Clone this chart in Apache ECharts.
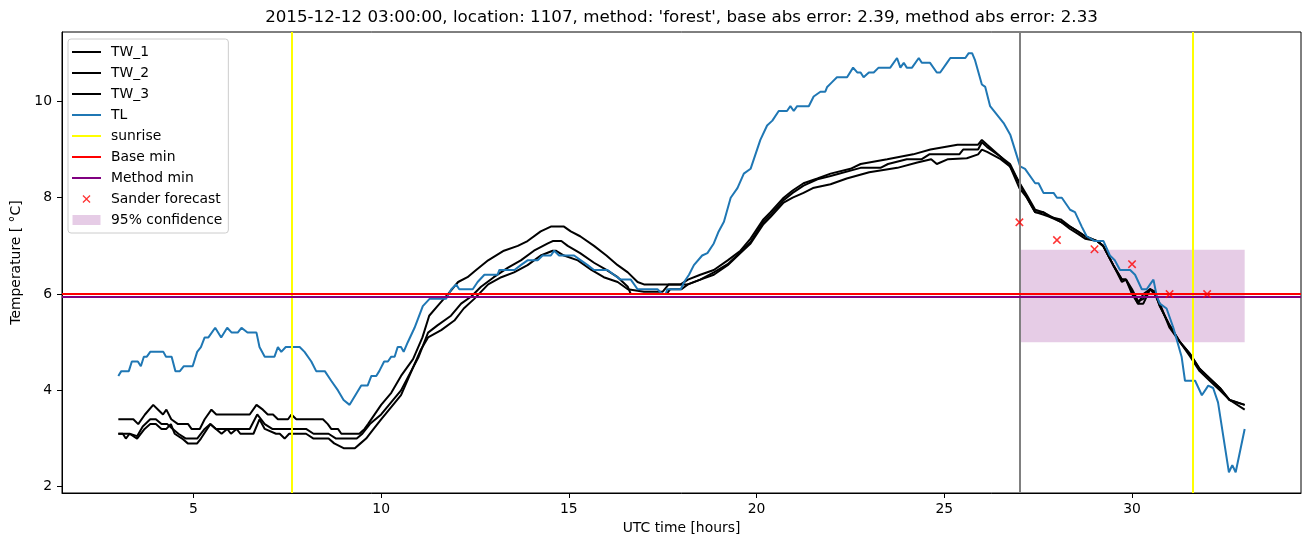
<!DOCTYPE html>
<html>
<head>
<meta charset="utf-8">
<script src="https://cdn.jsdelivr.net/npm/echarts@6/dist/echarts.min.js"></script>
<style>
  html, body { margin: 0; padding: 0; background: #fff; }
  #chart { width: 1310px; height: 547px; }
</style>
</head>
<body>
<div id="chart"></div>
<script>
// TL: air temperature [hour, degC]
const tlPoints = [[3.0,4.3],[3.08,4.4],[3.28,4.4],[3.36,4.6],[3.52,4.6],[3.6,4.5],[3.68,4.7],[3.76,4.7],[3.85,4.8],[4.2,4.8],[4.27,4.7],[4.42,4.7],[4.52,4.4],[4.64,4.4],[4.74,4.5],[4.98,4.5],[5.1,4.8],[5.2,4.9],[5.3,5.1],[5.4,5.1],[5.58,5.3],[5.74,5.1],[5.9,5.3],[6.02,5.2],[6.18,5.2],[6.28,5.3],[6.44,5.2],[6.68,5.2],[6.76,4.9],[6.9,4.7],[7.16,4.7],[7.25,4.9],[7.34,4.8],[7.46,4.9],[7.83,4.9],[7.96,4.8],[8.14,4.6],[8.27,4.4],[8.5,4.4],[8.67,4.2],[8.85,4.0],[9.0,3.8],[9.16,3.7],[9.47,4.1],[9.64,4.1],[9.74,4.3],[9.87,4.3],[9.95,4.4],[10.08,4.6],[10.18,4.6],[10.27,4.7],[10.36,4.7],[10.44,4.9],[10.53,4.9],[10.6,4.8],[10.71,5.0],[10.89,5.3],[11.11,5.75],[11.29,5.9],[11.73,5.9],[11.87,6.1],[12.0,6.2],[12.08,6.1],[12.44,6.1],[12.57,6.25],[12.75,6.4],[13.1,6.4],[13.15,6.5],[13.55,6.5],[13.72,6.6],[13.9,6.7],[14.17,6.7],[14.3,6.8],[14.52,6.8],[14.61,6.9],[14.74,6.8],[15.14,6.8],[15.32,6.7],[15.5,6.6],[15.67,6.5],[16.03,6.5],[16.2,6.4],[16.38,6.3],[16.65,6.3],[16.83,6.1],[17.36,6.1],[17.49,6.0],[17.58,6.0],[17.62,6.1],[17.98,6.1],[18.07,6.25],[18.2,6.4],[18.33,6.6],[18.55,6.8],[18.69,6.85],[18.86,7.05],[18.99,7.3],[19.13,7.5],[19.31,8.0],[19.49,8.2],[19.66,8.5],[19.84,8.6],[20.1,9.2],[20.28,9.5],[20.42,9.6],[20.59,9.8],[20.81,9.8],[20.9,9.9],[20.99,9.8],[21.08,9.9],[21.39,9.9],[21.52,10.1],[21.7,10.2],[21.83,10.2],[21.88,10.3],[22.01,10.4],[22.14,10.5],[22.41,10.5],[22.57,10.7],[22.68,10.6],[22.77,10.6],[22.85,10.5],[22.99,10.6],[23.12,10.6],[23.25,10.7],[23.56,10.7],[23.74,10.9],[23.83,10.7],[23.92,10.8],[24.0,10.7],[24.14,10.7],[24.32,10.9],[24.4,10.8],[24.62,10.8],[24.8,10.6],[24.89,10.6],[25.07,10.8],[25.16,10.9],[25.56,10.9],[25.65,11.0],[25.74,11.0],[25.82,10.85],[26.0,10.35],[26.09,10.3],[26.22,9.9],[26.58,9.55],[26.76,9.3],[26.98,8.75],[27.02,8.65],[27.15,8.6],[27.42,8.3],[27.51,8.3],[27.64,8.1],[27.91,8.1],[28.0,8.0],[28.13,8.0],[28.35,7.75],[28.48,7.7],[28.66,7.4],[28.79,7.2],[29.01,7.1],[29.24,7.1],[29.41,6.8],[29.54,6.7],[29.68,6.5],[29.95,6.5],[30.08,6.4],[30.26,6.1],[30.39,6.1],[30.48,6.2],[30.57,6.3],[30.66,5.95],[30.74,5.8],[30.92,5.7],[31.1,5.3],[31.32,4.7],[31.41,4.2],[31.68,4.2],[31.86,3.9],[32.03,4.1],[32.16,4.05],[32.29,3.75],[32.47,2.85],[32.58,2.3],[32.67,2.45],[32.76,2.3],[33.0,3.2]];

// TW_1..3: road sensors
const tw1Points = [[3.0,3.4],[3.4,3.4],[3.53,3.3],[3.71,3.5],[3.93,3.7],[4.06,3.6],[4.19,3.5],[4.28,3.6],[4.41,3.4],[4.59,3.3],[4.86,3.3],[4.95,3.2],[5.17,3.2],[5.3,3.4],[5.48,3.6],[5.61,3.5],[6.5,3.5],[6.68,3.7],[6.85,3.6],[6.98,3.5],[7.12,3.5],[7.25,3.4],[7.52,3.4],[7.61,3.5],[7.74,3.4],[8.45,3.4],[8.58,3.3],[8.67,3.2],[8.85,3.2],[8.94,3.1],[9.42,3.1],[9.56,3.2],[9.65,3.3],[10.0,3.7],[10.27,3.95],[10.53,4.3],[10.85,4.65],[11.1,5.1],[11.28,5.55],[11.5,5.75],[11.78,6.0],[12.05,6.25],[12.3,6.35],[12.53,6.5],[12.85,6.7],[13.27,6.9],[13.64,7.0],[13.9,7.1],[14.25,7.3],[14.52,7.4],[14.87,7.4],[15.05,7.3],[15.3,7.2],[15.67,7.0],[16.0,6.8],[16.3,6.6],[16.57,6.45],[16.83,6.25],[17.0,6.2],[17.98,6.2],[18.17,6.3],[18.5,6.4],[18.86,6.5],[19.23,6.7],[19.57,6.9],[19.84,7.15],[20.18,7.55],[20.37,7.7],[20.72,8.0],[20.96,8.15],[21.25,8.3],[21.62,8.4],[21.97,8.5],[22.5,8.6],[22.77,8.7],[23.48,8.8],[24.17,8.9],[24.63,9.0],[25.35,9.1],[25.9,9.1],[26.0,9.2],[26.14,9.1],[26.5,8.85],[26.75,8.65],[26.97,8.35],[27.2,8.05],[27.42,7.75],[27.63,7.7],[27.82,7.6],[28.1,7.55],[28.35,7.4],[28.56,7.3],[28.75,7.2],[29.07,7.1],[29.23,7.0],[29.5,6.6],[29.73,6.3],[29.84,6.3],[30.0,6.1],[30.16,5.85],[30.3,5.9],[30.48,6.1],[30.6,6.05],[30.74,5.75],[31.0,5.35],[31.28,5.0],[31.55,4.75],[31.8,4.45],[32.07,4.25],[32.34,4.05],[32.6,3.8],[33.0,3.7]];

const tw2Points = [[3.0,3.1],[3.3,3.1],[3.5,3.05],[3.65,3.25],[3.85,3.4],[4.0,3.4],[4.15,3.3],[4.3,3.3],[4.45,3.2],[4.6,3.1],[4.8,3.0],[5.1,3.0],[5.3,3.2],[5.45,3.3],[5.6,3.2],[6.5,3.2],[6.7,3.5],[6.9,3.3],[7.1,3.2],[8.0,3.2],[8.2,3.1],[8.6,3.1],[8.8,3.0],[9.35,3.0],[9.5,3.1],[9.7,3.3],[10.0,3.5],[10.53,4.0],[11.0,4.7],[11.25,5.2],[11.5,5.35],[11.86,5.55],[12.13,5.8],[12.4,5.95],[12.66,6.15],[13.0,6.35],[13.38,6.55],[13.72,6.7],[14.07,6.9],[14.44,7.05],[14.57,7.1],[14.8,7.1],[14.97,7.0],[15.3,6.85],[15.67,6.65],[16.0,6.5],[16.3,6.35],[16.57,6.15],[16.65,6.0],[17.6,6.0],[17.7,6.1],[18.0,6.1],[18.17,6.2],[18.5,6.3],[18.86,6.45],[19.23,6.62],[19.57,6.87],[19.84,7.08],[20.18,7.5],[20.37,7.65],[20.72,7.95],[20.96,8.1],[21.25,8.25],[21.62,8.38],[21.97,8.45],[22.77,8.62],[23.3,8.62],[23.5,8.7],[24.0,8.8],[24.4,8.8],[24.6,8.9],[25.4,8.9],[25.5,9.0],[25.9,9.0],[26.0,9.15],[26.14,9.05],[26.5,8.85],[26.75,8.7],[27.0,8.3],[27.2,8.0],[27.42,7.7],[27.63,7.7],[28.1,7.5],[28.35,7.4],[28.75,7.2],[29.07,7.1],[29.23,7.0],[29.5,6.6],[29.73,6.3],[29.84,6.3],[30.0,6.0],[30.16,5.8],[30.3,6.0],[30.48,6.1],[30.6,6.0],[30.74,5.8],[31.0,5.3],[31.28,5.0],[31.55,4.7],[31.8,4.4],[32.07,4.2],[32.34,4.0],[32.6,3.8],[33.0,3.7]];

const tw3Points = [[3.0,3.1],[3.12,3.1],[3.2,3.0],[3.3,3.1],[3.5,3.0],[3.7,3.2],[3.85,3.3],[4.0,3.3],[4.15,3.2],[4.28,3.2],[4.4,3.3],[4.5,3.1],[4.7,3.0],[4.85,2.9],[5.1,2.9],[5.2,3.0],[5.45,3.3],[5.6,3.2],[5.75,3.1],[5.9,3.2],[6.0,3.1],[6.15,3.2],[6.25,3.1],[6.6,3.1],[6.76,3.4],[6.9,3.2],[7.2,3.1],[7.3,3.1],[7.43,3.0],[7.55,3.1],[8.0,3.1],[8.2,3.0],[8.6,3.0],[8.75,2.9],[9.0,2.8],[9.3,2.8],[9.45,2.9],[9.6,3.0],[9.8,3.2],[10.0,3.4],[10.53,3.9],[11.06,4.85],[11.25,5.1],[11.6,5.25],[11.95,5.45],[12.2,5.7],[12.48,5.9],[12.85,6.2],[13.2,6.35],[13.54,6.45],[13.9,6.6],[14.25,6.8],[14.57,6.9],[14.65,6.9],[14.87,6.8],[15.24,6.7],[15.6,6.5],[15.93,6.35],[16.3,6.25],[16.57,6.1],[17.0,6.05],[17.5,6.05],[17.66,6.2],[18.17,6.2],[18.5,6.3],[18.86,6.4],[19.23,6.6],[19.57,6.85],[19.84,7.05],[20.18,7.45],[20.37,7.6],[20.72,7.9],[20.96,8.0],[21.25,8.1],[21.5,8.2],[21.97,8.28],[22.4,8.4],[23.0,8.53],[23.75,8.62],[24.28,8.73],[24.65,8.8],[24.8,8.7],[25.1,8.8],[25.6,8.82],[25.9,8.9],[26.0,9.0],[26.14,8.95],[26.5,8.8],[26.75,8.65],[27.0,8.2],[27.2,8.0],[27.42,7.7],[27.63,7.65],[27.82,7.6],[28.1,7.5],[28.35,7.35],[28.56,7.25],[28.75,7.15],[29.07,7.1],[29.23,7.0],[29.5,6.6],[29.73,6.25],[29.84,6.3],[30.0,6.05],[30.16,5.8],[30.3,5.8],[30.48,6.1],[30.6,6.05],[30.74,5.75],[31.0,5.35],[31.28,5.0],[31.55,4.75],[31.8,4.45],[32.07,4.25],[32.34,4.05],[32.6,3.8],[33.0,3.6]];

// forecast hours and values
const forecastHours = [27, 28, 29, 30, 31, 32];
const forecastValues = [7.49, 7.12, 6.93, 6.62, 6.0, 6.0];

const sunriseHours = [7.63, 31.63];
const forecastStart = 27.0;
const baseMin = 6.01;
const methodMin = 5.95;
const bandHours = [27.0, 33.0];
const bandTemps = [5.0, 6.92];

const xTicks = [5, 10, 15, 20, 25, 30];
const yTicks = [2, 4, 6, 8, 10];

const FONT = 'DejaVu Sans';
const xPath = 'path://M0,1.3L1.3,0L5,3.7L8.7,0L10,1.3L6.3,5L10,8.7L8.7,10L5,6.3L1.3,10L0,8.7L3.7,5Z';
// legend icons padded into the 29x14 legend box
const lineLegendPath = 'path://M0,0M29,14M0,6L29,6L29,8L0,8Z';
const xLegendPath = 'path://M0,0M29,14M10.5,3.9L11.4,3L14.5,6.1L17.6,3L18.5,3.9L15.4,7L18.5,10.1L17.6,11L14.5,7.9L11.4,11L10.5,10.1L13.6,7Z';
const bandLegendPath = 'path://M0,0M29,14M0.5,2L28.5,2L28.5,12L0.5,12Z';

const chart = echarts.init(document.getElementById('chart'));

function blackLine(name, pts) {
  return {
    name: name, type: 'line', data: pts, symbol: 'none', z: 3,
    lineStyle: { color: '#000', width: 2 }, itemStyle: { color: '#000' }
  };
}

chart.setOption({
  animation: false,
  textStyle: { fontFamily: FONT },
  graphic: [{
    type: 'text', x: 681.5, y: 18,
    style: {
      text: "2015-12-12 03:00:00, location: 1107, method: 'forest', base abs error: 2.39, method abs error: 2.33",
      font: '16.7px "DejaVu Sans"', fill: '#000', align: 'center', verticalAlign: 'middle'
    }
  }],
  grid: { left: 62, right: 9, top: 32, bottom: 54, show: true, borderColor: '#000', borderWidth: 1, backgroundColor: 'transparent' },
  legend: {
    left: 68, top: 39, orient: 'vertical',
    itemWidth: 29, itemHeight: 14, itemGap: 7,
    padding: [6, 6, 6, 4],
    backgroundColor: 'rgba(255,255,255,0.8)', borderColor: '#cccccc', borderWidth: 1, borderRadius: 3,
    selectedMode: false,
    itemStyle: { borderWidth: 0 },
    textStyle: { fontFamily: FONT, fontSize: 13.9, color: '#000', padding: [0, 0, 0, 5] },
    data: [
      { name: 'TW_1', icon: lineLegendPath },
      { name: 'TW_2', icon: lineLegendPath },
      { name: 'TW_3', icon: lineLegendPath },
      { name: 'TL', icon: lineLegendPath },
      { name: 'sunrise', icon: lineLegendPath },
      { name: 'Base min', icon: lineLegendPath },
      { name: 'Method min', icon: lineLegendPath },
      { name: 'Sander forecast', icon: xLegendPath },
      { name: '95% confidence', icon: bandLegendPath }
    ]
  },
  xAxis: {
    type: 'value', min: 1.5, max: 34.5,
    name: 'UTC time [hours]', nameLocation: 'middle', nameGap: 28,
    nameTextStyle: { fontFamily: FONT, fontSize: 13.9, color: '#000' },
    axisLine: { show: true, lineStyle: { color: '#000', width: 1 } },
    axisTick: { show: true, length: 5, customValues: xTicks, lineStyle: { color: '#000', width: 1 } },
    axisLabel: { customValues: xTicks, margin: 9, fontFamily: FONT, fontSize: 13.9, color: '#000' },
    splitLine: { show: false }
  },
  yAxis: {
    type: 'value', min: 1.87, max: 11.44,
    name: 'Temperature [ °C]', nameLocation: 'middle', nameGap: 36,
    nameTextStyle: { fontFamily: FONT, fontSize: 13.9, color: '#000' },
    axisLine: { show: true, lineStyle: { color: '#000', width: 1 } },
    axisTick: { show: true, length: 5, customValues: yTicks, lineStyle: { color: '#000', width: 1 } },
    axisLabel: { customValues: yTicks, margin: 10, fontFamily: FONT, fontSize: 13.9, color: '#000' },
    splitLine: { show: false }
  },
  series: [
    {
      name: '95% confidence', type: 'line', data: [], z: 1,
      itemStyle: { color: 'rgba(128,0,128,0.2)' }, lineStyle: { color: 'rgba(128,0,128,0.2)' },
      markArea: {
        silent: true,
        itemStyle: { color: 'rgba(128,0,128,0.2)' },
        data: [[{ xAxis: bandHours[0], yAxis: bandTemps[0] }, { xAxis: bandHours[1], yAxis: bandTemps[1] }]]
      }
    },
    blackLine('TW_1', tw1Points),
    blackLine('TW_2', tw2Points),
    blackLine('TW_3', tw3Points),
    {
      name: 'TL', type: 'line', data: tlPoints, symbol: 'none', z: 3,
      lineStyle: { color: '#1f77b4', width: 2 }, itemStyle: { color: '#1f77b4' }
    },
    {
      name: 'sunrise', type: 'line', data: [], z: 4,
      lineStyle: { color: '#ffff00', width: 2 }, itemStyle: { color: '#ffff00' },
      markLine: {
        silent: true, symbol: 'none', label: { show: false },
        lineStyle: { color: '#ffff00', width: 2, type: 'solid' },
        data: sunriseHours.map(h => ({ xAxis: h }))
      }
    },
    {
      name: 'forecast start', type: 'line', data: [], z: 4,
      markLine: {
        silent: true, symbol: 'none', label: { show: false },
        lineStyle: { color: '#808080', width: 2, type: 'solid' },
        data: [{ xAxis: forecastStart }]
      }
    },
    {
      name: 'Base min', type: 'line', data: [], z: 4,
      lineStyle: { color: '#ff0000', width: 2 }, itemStyle: { color: '#ff0000' },
      markLine: {
        silent: true, symbol: 'none', label: { show: false },
        lineStyle: { color: '#ff0000', width: 2, type: 'solid' },
        data: [{ yAxis: baseMin }]
      }
    },
    {
      name: 'Method min', type: 'line', data: [], z: 4,
      lineStyle: { color: '#800080', width: 2 }, itemStyle: { color: '#800080' },
      markLine: {
        silent: true, symbol: 'none', label: { show: false },
        lineStyle: { color: '#800080', width: 2, type: 'solid' },
        data: [{ yAxis: methodMin }]
      }
    },
    {
      name: 'Sander forecast', type: 'scatter', z: 5,
      data: forecastHours.map((h, i) => [h, forecastValues[i]]),
      symbol: xPath, symbolSize: 8.5,
      itemStyle: { color: '#ff0000' }
    }
  ]
});
</script>
</body>
</html>
